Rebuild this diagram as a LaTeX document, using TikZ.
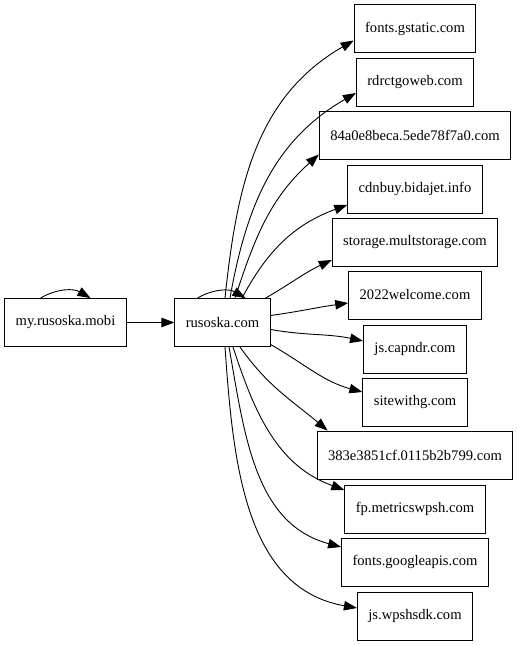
\documentclass[tikz,border=0pt]{standalone}
\usepackage{fontspec}
\setmainfont{Liberation Serif}
\usepackage{tikz}
\usetikzlibrary{arrows.meta, positioning}

\begin{document}
\begin{tikzpicture}[
    x=1pt, y=1pt,
    host node/.style={rectangle, draw=black, line width=0.9pt, minimum height=48pt, inner xsep=11pt, inner ysep=0pt, font=\fontsize{14.6}{16}\selectfont},
    host edge/.style={line width=0.9pt, -{Triangle[length=13pt, width=9.5pt]}}
]
    \useasboundingbox (0,0) rectangle (517,645);

    % Origen
    \node[host node] (mobi) at (65.5, 322.5) {my.rusoska.mobi};
    \node[host node] (com)  at (222.5, 322.5) {rusoska.com};

    % Destinos
    \node[host node] (gstatic)    at (415, 616.5) {fonts.gstatic.com};
    \node[host node] (rdrct)      at (415, 563)   {rdrctgoweb.com};
    \node[host node] (hexa)       at (415, 509.5) {84a0e8beca.5ede78f7a0.com};
    \node[host node] (cdnbuy)     at (415, 456)   {cdnbuy.bidajet.info};
    \node[host node] (storage)    at (415, 403)   {storage.multstorage.com};
    \node[host node] (welcome)    at (415, 350)   {2022welcome.com};
    \node[host node] (capndr)     at (415, 296)   {js.capndr.com};
    \node[host node] (sitewithg)  at (415, 243)   {sitewithg.com};
    \node[host node] (hexb)       at (415, 190)   {383e3851cf.0115b2b799.com};
    \node[host node] (metrics)    at (415, 136)   {fp.metricswpsh.com};
    \node[host node] (googleapis) at (415, 83)    {fonts.googleapis.com};
    \node[host node] (wpshsdk)    at (415, 29)    {js.wpshsdk.com};

    % Bucles
    \draw[host edge] ([xshift=-25pt]mobi.north) to[out=30, in=150] ([xshift=25pt]mobi.north);
    \draw[host edge] ([xshift=-25pt]com.north) to[out=30, in=150] ([xshift=23pt]com.north);

    % Aristas
    \draw[host edge] (mobi) -- (com);
    \draw[host edge] ([xshift=2.5pt]com.north)  to[out=84, in=210] ([yshift=-12pt]gstatic.west);
    \draw[host edge] ([xshift=7.5pt]com.north)  to[out=80, in=210] ([yshift=-11pt]rdrct.west);
    \draw[host edge] ([xshift=12.5pt]com.north) to[out=72, in=222] ([yshift=-19pt]hexa.west);
    \draw[host edge] ([xshift=19.5pt]com.north) to[out=62, in=200] ([yshift=-16pt]cdnbuy.west);
    \draw[host edge] ([xshift=-5pt]com.north east) to[out=30, in=205] ([yshift=-18pt]storage.west);
    \draw[host edge] ([yshift=7pt]com.east)   to[out=8, in=188] ([yshift=-8pt]welcome.west);
    \draw[host edge] ([yshift=-7pt]com.east)  to[out=-10, in=168] ([yshift=8pt]capndr.west);
    \draw[host edge] ([yshift=-22pt]com.east) to[out=-30, in=165] ([yshift=10pt]sitewithg.west);
    \draw[host edge] ([xshift=17.5pt]com.south) to[out=-55, in=140] ([xshift=11pt]hexb.north west);
    \draw[host edge] ([xshift=10.5pt]com.south) to[out=-72, in=160] ([yshift=19pt]metrics.west);
    \draw[host edge] ([xshift=6.5pt]com.south)  to[out=-80, in=165] ([yshift=15pt]googleapis.west);
    \draw[host edge] ([xshift=2.5pt]com.south)  to[out=-86, in=170] ([yshift=8pt]wpshsdk.west);
\end{tikzpicture}
\end{document}
